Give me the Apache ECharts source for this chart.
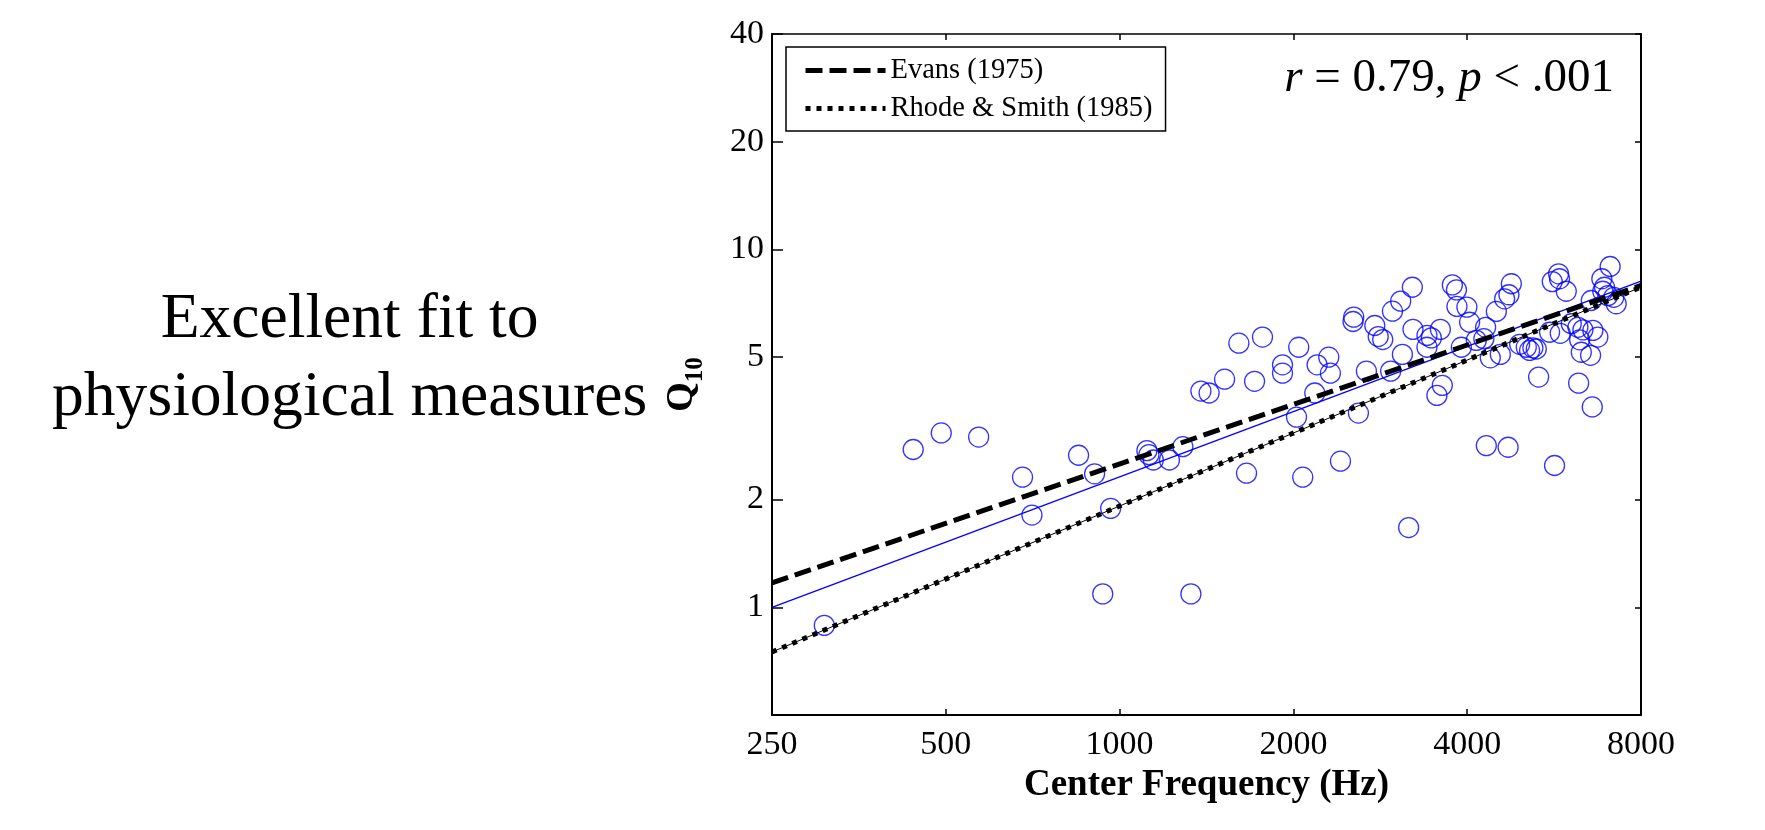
<!DOCTYPE html>
<html><head><meta charset="utf-8">
<script src="https://cdn.jsdelivr.net/npm/echarts@6/dist/echarts.min.js"></script>
<style>html,body{margin:0;padding:0;background:#fff}#c{width:1765px;height:830px}</style>
</head><body><div id="c"></div>
<script>
// ---- data ----
const freqHz = [308, 439, 491, 570, 679, 705, 849, 905, 935, 965,
  1115, 1124, 1144, 1220, 1287, 1329, 1383, 1429, 1520, 1609,
  1659, 1713, 1768, 1915, 1915, 2025, 2043, 2076, 2178, 2198,
  2303, 2318, 2413, 2537, 2544, 2592, 2676, 2767, 2805, 2856,
  2948, 2969, 3068, 3089, 3167, 3214, 3222, 3407, 3467, 3407,
  3545, 3594, 3622, 3770, 3832, 3840, 3908, 3995, 4039, 4148,
  4275, 4305, 4317, 4386, 4493, 4565, 4644, 4709, 4724, 4770,
  4931, 5063, 5130, 5198, 5269, 5318, 5556, 5615, 5667, 5759,
  5781, 5797, 5938, 6058, 6220, 6238, 6263, 6305, 6346, 6543,
  6561, 6587, 6603, 6735, 6843, 6869, 6916, 7008, 7074, 7177, 7246];
const q10 = [0.89, 2.76, 3.07, 2.99, 2.31, 1.81, 2.66, 2.36, 1.09, 1.89,
  2.74, 2.67, 2.58, 2.58, 2.81, 1.09, 4.02, 3.97, 4.34, 5.47,
  2.37, 4.28, 5.69, 4.76, 4.51, 3.40, 5.33, 2.31, 3.97, 4.76,
  5.00, 4.51, 2.56, 6.29, 6.47, 3.49, 4.57, 6.13, 5.71, 5.60,
  4.57, 6.72, 7.17, 5.09, 1.67, 7.84, 5.98, 5.75, 5.66, 5.33,
  3.91, 5.98, 4.17, 7.96, 7.71, 6.93, 5.33, 6.90, 6.26, 5.57,
  5.63, 6.06, 2.83, 4.98, 6.71, 5.09, 7.28, 2.80, 7.47, 8.02,
  5.43, 5.33, 5.22, 5.31, 5.27, 4.40, 5.87, 8.13, 2.49, 8.55,
  8.28, 5.83, 7.64, 6.20, 6.06, 4.23, 5.59, 5.16, 5.96, 5.06,
  7.20, 3.63, 5.94, 5.69, 8.28, 7.64, 7.84, 7.43, 8.96, 7.35, 7.05];
const xTicks = [250, 500, 1000, 2000, 4000, 8000];
const yTicks = [1, 2, 5, 10, 20, 40];
const lineFreq = [250, 8000];
const evansQ = [1.17, 7.93];
const rhodeQ = [0.75, 7.85];
const fitQ = [1.0, 8.15];
const legendNames = ['Evans (1975)', 'Rhode & Smith (1985)'];
const sideText = ['Excellent fit to', 'physiological measures'];
const xName = 'Center Frequency (Hz)';

// ---- chart ----
const serif = '"Liberation Serif","Times New Roman",serif';
const pts = freqHz.map((f, i) => [f, q10[i]]);
const mk = arr => lineFreq.map((f, i) => [f, arr[i]]);
const evansStyle = {color: '#000', width: 5, type: [17, 7]};
const rhodeStyle = {color: '#000', width: 5, type: [5, 6]};

function xAxis(pos, showLabel, w) {
  return {
    type: 'log', logBase: 2, min: 250, max: 8000, position: pos,
    splitLine: {show: false},
    axisLine: {onZero: false, lineStyle: {color: '#000', width: w}},
    axisTick: {inside: true, length: 6, customValues: xTicks, lineStyle: {color: '#000', width: 1.5}},
    axisLabel: {show: showLabel, customValues: xTicks, margin: 13, color: '#000',
      fontFamily: serif, fontSize: 34, formatter: v => String(Math.round(v))},
    name: showLabel ? xName : '', nameLocation: 'middle', nameGap: 52,
    nameTextStyle: {fontFamily: serif, fontSize: 37, fontWeight: 'bold', color: '#000'}
  };
}
function yAxis(pos, showLabel, w, tl) {
  return {
    type: 'log', logBase: 2, min: 0.5, max: 40, position: pos,
    splitLine: {show: false},
    axisLine: {onZero: false, lineStyle: {color: '#000', width: w}},
    axisTick: {inside: true, length: tl, customValues: yTicks, lineStyle: {color: '#000', width: 1.5}},
    axisLabel: {show: showLabel, customValues: yTicks, margin: 8, color: '#000',
      fontFamily: serif, fontSize: 34, formatter: v => String(Math.round(v))},
    name: showLabel ? '{q|Q}{s|10}' : '', nameLocation: 'middle', nameGap: 64, nameRotate: 90,
    nameTextStyle: {
      color: '#000', fontFamily: serif, padding: [0, 20, 0, 0],
      rich: {
        q: {fontFamily: serif, fontSize: 38, fontWeight: 'bold', color: '#000', verticalAlign: 'bottom', padding: [0, 0, 7, 0]},
        s: {fontFamily: serif, fontSize: 25, fontWeight: 'bold', color: '#000', verticalAlign: 'bottom'}
      }
    }
  };
}

const chart = echarts.init(document.getElementById('c'), null, {renderer: 'canvas'});
chart.setOption({
  animation: false,
  backgroundColor: '#fff',
  grid: {left: 772, right: 124, top: 34, bottom: 115, containLabel: false},
  xAxis: [xAxis('bottom', true, 2), xAxis('top', false, 1.5)],
  yAxis: [yAxis('left', true, 2, 11), yAxis('right', false, 2, 6)],
  legend: {
    data: [
      {name: legendNames[0], lineStyle: evansStyle},
      {name: legendNames[1], lineStyle: rhodeStyle}
    ],
    orient: 'vertical', left: 786, top: 47,
    padding: [9, 13, 8, 17], itemWidth: 80, itemHeight: 14, itemGap: 9,
    itemStyle: {opacity: 0},
    borderColor: '#000', borderWidth: 1.5, backgroundColor: '#fff', borderRadius: 0,
    textStyle: {fontFamily: serif, fontSize: 28.5, color: '#000', padding: [0, 0, 0, 0]}
  },
  graphic: [
    {type: 'text', x: 349.6, y: 320.7,
      style: {text: sideText[0], font: '63.6px ' + serif, fill: '#000', textAlign: 'center', textVerticalAlign: 'middle'}},
    {type: 'text', x: 349.6, y: 398,
      style: {text: sideText[1], font: '63.6px ' + serif, fill: '#000', textAlign: 'center', textVerticalAlign: 'middle'}},
    {type: 'text', x: 1614, y: 79, z: 100,
      style: {
        text: '{i|r}{n| = 0.79, }{i|p}{n| < .001}', textAlign: 'right', textVerticalAlign: 'middle',
        rich: {
          i: {fontFamily: serif, fontSize: 47, fontStyle: 'italic', fill: '#000'},
          n: {fontFamily: serif, fontSize: 47, fill: '#000'}
        }
      }}
  ],
  series: [
    {type: 'scatter', data: pts, symbol: 'circle', symbolSize: 20, z: 2,
      itemStyle: {color: 'rgba(0,0,0,0)', borderColor: '#0000ff', borderWidth: 1.3}},
    {type: 'line', data: mk(fitQ), symbol: 'none', z: 3,
      lineStyle: {color: '#0000ff', width: 1.3}},
    {type: 'line', name: legendNames[0], data: mk(evansQ), symbol: 'none', z: 4,
      lineStyle: evansStyle, itemStyle: {color: '#000'}},
    {type: 'line', name: legendNames[1], data: mk(rhodeQ), symbol: 'none', z: 4,
      lineStyle: rhodeStyle, itemStyle: {color: '#000'}},
    {type: 'line', data: mk(rhodeQ), symbol: 'none', z: 4,
      lineStyle: {color: '#000', width: 1}}
  ]
});
</script></body></html>
